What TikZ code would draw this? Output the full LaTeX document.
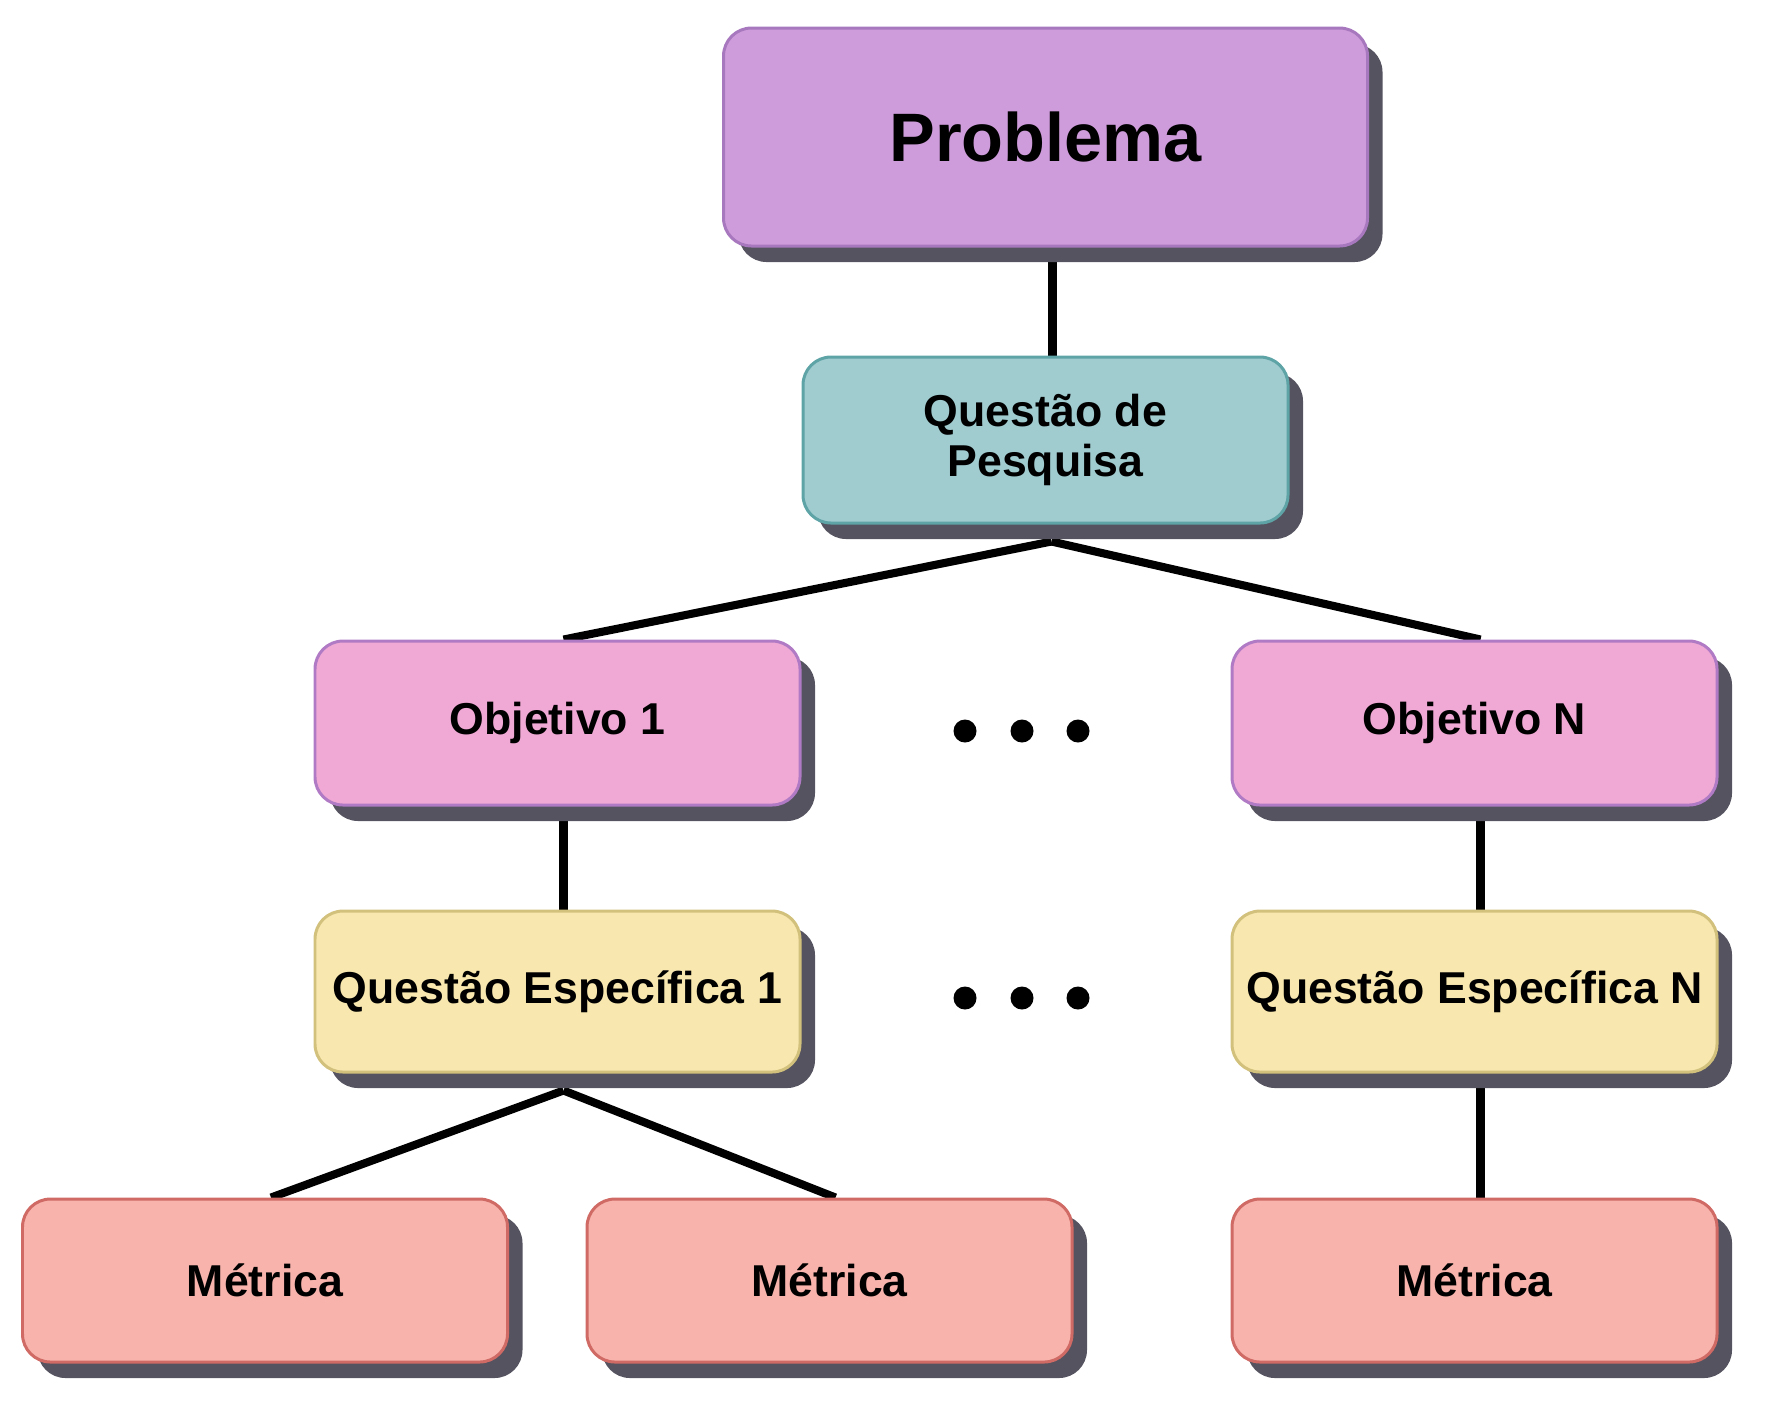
\documentclass[tikz,border=0pt]{standalone}
\usepackage{fontspec}
\setmainfont{Liberation Sans}
\usetikzlibrary{shadows,backgrounds}
\definecolor{shadowc}{HTML}{55535F}
\definecolor{probfill}{HTML}{CF9CDB}
\definecolor{probline}{HTML}{A878BE}
\definecolor{qpfill}{HTML}{A0CBCF}
\definecolor{qpline}{HTML}{5EA3A6}
\definecolor{objfill}{HTML}{F0A8D4}
\definecolor{objline}{HTML}{B07BC4}
\definecolor{qefill}{HTML}{F8E7AE}
\definecolor{qeline}{HTML}{D2C17C}
\definecolor{metfill}{HTML}{F7B3AC}
\definecolor{metline}{HTML}{D06A64}
\tikzset{
  box/.style={rectangle,draw,rounded corners=.28cm,line width=.85pt,
    minimum width=4.85cm,minimum height=1.64cm,inner xsep=2pt,align=center,
    font=\bfseries\fontsize{12.7}{14.2}\selectfont,
    drop shadow={shadow xshift=.15cm,shadow yshift=-.16cm,fill=shadowc,opacity=1}},
  conn/.style={line width=2.3pt,black}
}
\begin{document}
\begin{tikzpicture}
\useasboundingbox (0,0) rectangle (17.7,-14.02);
\draw (10.455,-1.37) node[box,fill=probfill,draw=probline,minimum width=6.44cm,minimum height=2.18cm,font=\bfseries\fontsize{19.5}{22}\selectfont] (prob) {Problema};
\draw (10.455,-4.40) node[box,fill=qpfill,draw=qpline,minimum height=1.66cm] (qp) {Questão de\\Pesquisa};
\draw (5.575,-7.23) node[box,fill=objfill,draw=objline] (obj1) {Objetivo 1};
\draw (14.745,-7.23) node[box,fill=objfill,draw=objline] (objn) {Objetivo N};
\draw (5.575,-9.915) node[box,fill=qefill,draw=qeline,minimum height=1.61cm] (qe1) {Questão Específica 1};
\draw (14.745,-9.915) node[box,fill=qefill,draw=qeline,minimum height=1.61cm] (qen) {Questão Específica N};
\draw (2.65,-12.805) node[box,fill=metfill,draw=metline,minimum height=1.63cm] (met1) {Métrica};
\draw (8.295,-12.805) node[box,fill=metfill,draw=metline,minimum height=1.63cm] (met2) {Métrica};
\draw (14.745,-12.805) node[box,fill=metfill,draw=metline,minimum height=1.63cm] (met3) {Métrica};
\begin{scope}[on background layer]
\draw[conn] ([xshift=.07cm]prob.south) -- ([xshift=.07cm]qp.north);
\draw[conn] ([xshift=.06cm,yshift=-.17cm]qp.south) -- ([xshift=.06cm]obj1.north);
\draw[conn] ([xshift=.06cm,yshift=-.17cm]qp.south) -- ([xshift=.06cm]objn.north);
\draw[conn] ([xshift=.06cm]obj1.south) -- ([xshift=.06cm]qe1.north);
\draw[conn] ([xshift=.06cm]objn.south) -- ([xshift=.06cm]qen.north);
\draw[conn] ([xshift=.06cm,yshift=-.17cm]qe1.south) -- ([xshift=.06cm]met1.north);
\draw[conn] ([xshift=.06cm,yshift=-.17cm]qe1.south) -- ([xshift=.06cm]met2.north);
\draw[conn] ([xshift=.06cm]qen.south) -- ([xshift=.06cm]met3.north);
\end{scope}
\foreach \x in {9.65,10.22,10.78} {
  \fill (\x,-7.31) circle (.115);
  \fill (\x,-9.98) circle (.115);
}
\end{tikzpicture}
\end{document}
